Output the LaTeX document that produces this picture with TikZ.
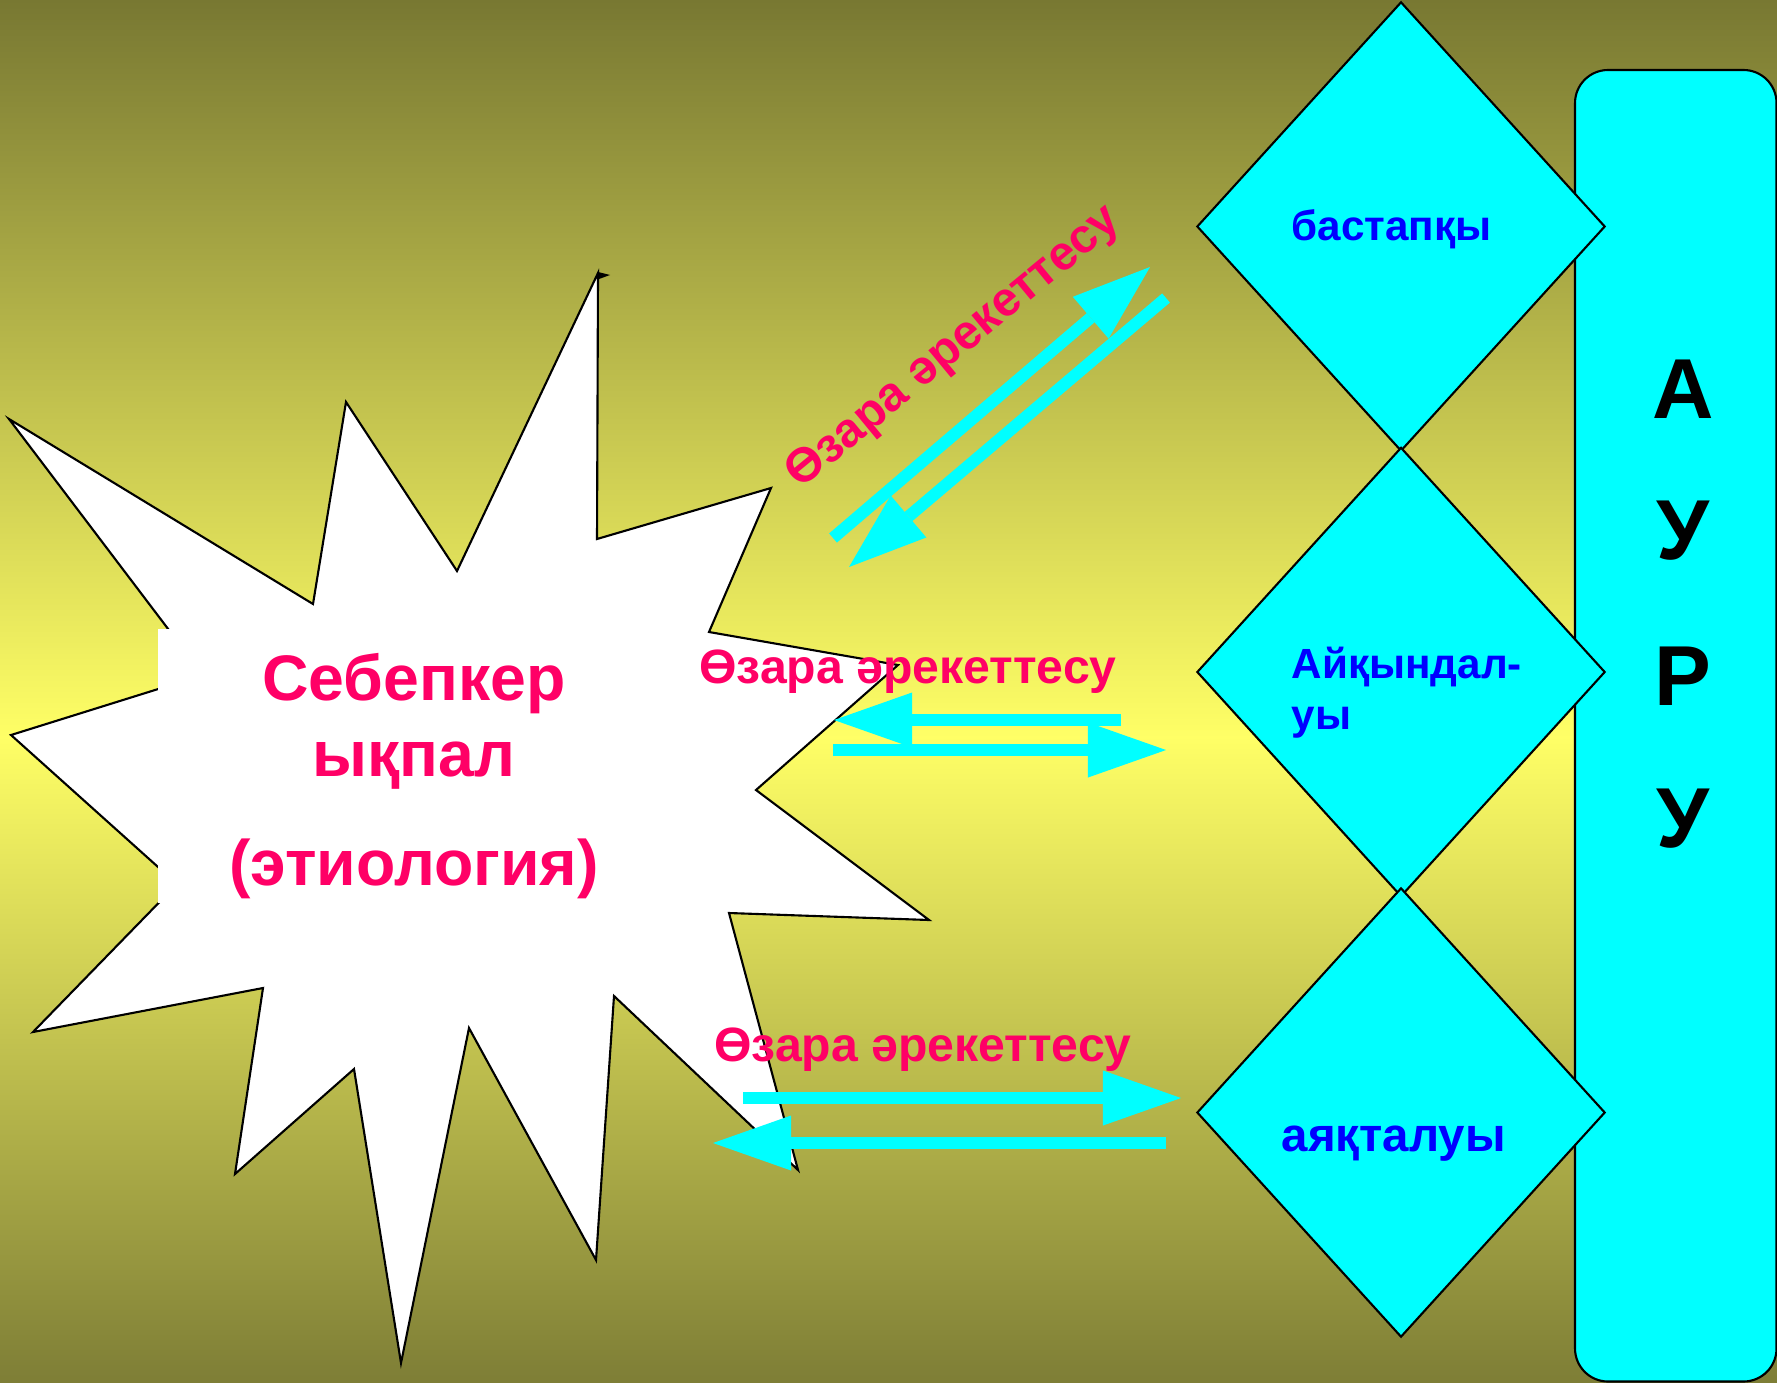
\documentclass[tikz,border=0pt]{standalone}
\usepackage{fontspec}
\setmainfont{Liberation Sans}
\usetikzlibrary{shapes.geometric,arrows.meta}
\definecolor{olivetop}{RGB}{120,120,50}
\definecolor{olivebot}{RGB}{126,126,54}
\definecolor{brightyel}{RGB}{255,255,102}
\definecolor{magred}{RGB}{255,0,102}
\definecolor{cyanfill}{RGB}{0,255,255}
\definecolor{bluetext}{RGB}{0,0,255}
\tikzset{
  stagebox/.style={diamond,draw=black,line width=0.6pt,fill=cyanfill,
    minimum width=4.08cm,minimum height=4.49cm,inner sep=0pt},
  bigarrow/.style={draw=cyanfill,line width=0.12cm,
    -{Triangle[length=0.78cm,width=0.55cm,line width=0pt]}},
  startext/.style={text=magred,inner sep=0pt,font=\fontsize{18.3}{22}\selectfont\bfseries},
  linktext/.style={text=magred,inner sep=0pt,font=\fontsize{13.7}{16}\selectfont\bfseries},
  stagetext/.style={text=bluetext,inner sep=0pt,font=\fontsize{12}{14}\selectfont\bfseries},
  aurutext/.style={text=black,inner sep=0pt,font=\fontsize{24.2}{28}\selectfont\bfseries}
}
\begin{document}
\begin{tikzpicture}[x=0.01cm,y=-0.01cm]
\useasboundingbox (0,0) rectangle (1777,1382);
\clip (0,0) rectangle (1777,1382);
% background
\shade[top color=olivetop,bottom color=brightyel] (0,0) rectangle (1777,738);
\shade[top color=brightyel,bottom color=olivebot] (0,736) rectangle (1777,1382);
% right rounded bar
\draw[fill=cyanfill,draw=black,line width=0.6pt,rounded corners=0.33cm] (1575,70) rectangle (1776.5,1381.5);
% diamonds
\node[stagebox] (d1) at (1401,226.5) {};
\node[stagebox] (d2) at (1401,672) {};
\node[stagebox] (d3) at (1401,1112.5) {};
% star
\draw[fill=white,draw=black,line width=0.6pt,line join=miter]
 (9,419) -- (313,604) -- (346,402) -- (457,571) -- (598,273) -- (597,539)
 -- (771,488) -- (709,632) -- (898,665) -- (756,790) -- (929,920) -- (729,913)
 -- (798,1170) -- (614,996) -- (596,1260) -- (469,1028) -- (401,1363)
 -- (354,1069) -- (235,1174) -- (263,988) -- (33,1032) -- (177,884)
 -- (11,735) -- (203,675) -- cycle;
\fill[black] (598,272) -- (610,275) -- (599,279) -- cycle;
\fill[white] (158,629) rectangle (669,903);
% star text
\node[startext,anchor=base] (s1) at (414,700) {Себепкер};
\node[startext,anchor=base] (s2) at (414,776) {ықпал};
\node[startext,anchor=base] (s3) at (414,885) {(этиология)};
% link texts
\node[linktext,rotate=39.5] (l1) at (954,348) {Өзара әрекеттесу};
\node[linktext,anchor=base] (l2) at (908,683) {Өзара әрекеттесу};
\node[linktext,anchor=base] (l3) at (923,1061) {Өзара әрекеттесу};
% stage texts
\node[stagetext,anchor=base west] (t1) at (1291,240) {бастапқы};
\node[stagetext,anchor=base west] (t2a) at (1291,678) {Айқындал-};
\node[stagetext,anchor=base west] (t2b) at (1291,729) {уы};
\node[stagetext,anchor=base west,font=\fontsize{13.5}{16}\selectfont\bfseries] (t3) at (1281,1151) {аяқталуы};
% AURU letters
\node[aurutext] (u1) at (1683,389) {А};
\node[aurutext] (u2) at (1683,531) {У};
\node[aurutext] (u3) at (1683,676) {Р};
\node[aurutext] (u4) at (1683,819) {У};
% arrow end points
\coordinate (a1s) at (833,538);  \coordinate (a1e) at (1150,267);
\coordinate (a2s) at (1166,298); \coordinate (a2e) at (849,567);
\coordinate (b1s) at (1121,720); \coordinate (b1e) at (834,720);
\coordinate (b2s) at (833,750);  \coordinate (b2e) at (1166,750);
\coordinate (c1s) at (743,1098); \coordinate (c1e) at (1181,1098);
\coordinate (c2s) at (1166,1143); \coordinate (c2e) at (713,1143);
\draw[bigarrow] (a1s) -- (a1e);
\draw[bigarrow] (a2s) -- (a2e);
\draw[bigarrow] (b1s) -- (b1e);
\draw[bigarrow] (b2s) -- (b2e);
\draw[bigarrow] (c1s) -- (c1e);
\draw[bigarrow] (c2s) -- (c2e);
\end{tikzpicture}
\end{document}
